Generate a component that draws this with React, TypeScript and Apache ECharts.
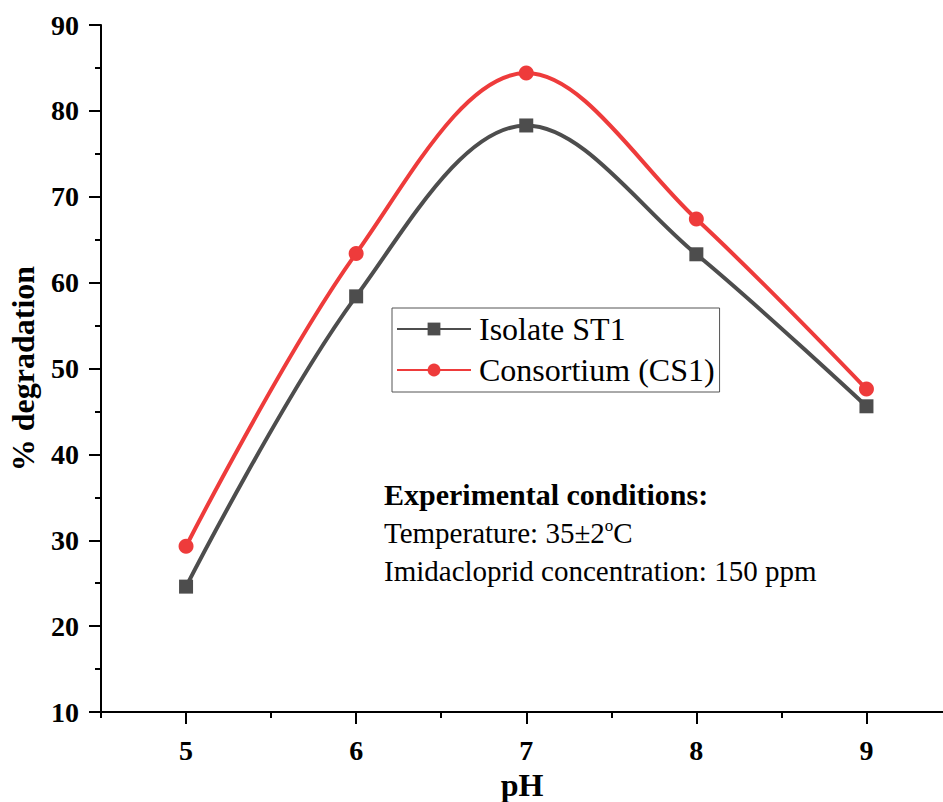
import React, { useEffect, useRef } from "react";
import * as echarts from "echarts";

const phValues = [5, 6, 7, 8, 9];
const isolateST1 = [24.6, 58.4, 78.3, 63.3, 45.6];
const consortiumCS1 = [29.3, 63.4, 84.4, 67.4, 47.6];
const xMajorTicks = [5, 6, 7, 8, 9];
const xMinorTicks = [4.5, 5.5, 6.5, 7.5, 8.5];
const legendNames = ["Isolate ST1", "Consortium (CS1)"];
const seriesColors = ["#4d4d4d", "#ee3b3b"];

const FONT = "Liberation Serif";

export default function App() {
  const ref = useRef<HTMLDivElement>(null);
  useEffect(() => {
    if (!ref.current) return;
    const chart = echarts.init(ref.current, null, { renderer: "svg" });
    const pairs = (ys: number[]) => phValues.map((x, i) => [x, ys[i]]);
    chart.setOption({
      animation: false,
      backgroundColor: "#ffffff",
      textStyle: { fontFamily: FONT },
      grid: { left: 101, right: 0, top: 25, bottom: 90, containLabel: false, outerBoundsMode: "none" },
      xAxis: [
        {
          type: "value",
          min: 4.5,
          max: 9.45,
          name: "pH",
          nameLocation: "middle",
          nameGap: 55,
          nameTextStyle: { fontFamily: FONT, fontWeight: "bold", fontSize: 32, color: "#000" },
          axisLine: { show: true, lineStyle: { color: "#000", width: 2 } },
          axisTick: { show: true, customValues: xMajorTicks, length: 12, lineStyle: { color: "#000", width: 2 } },
          axisLabel: {
            customValues: xMajorTicks,
            margin: 24,
            fontFamily: FONT,
            fontWeight: "bold",
            fontSize: 28,
            color: "#000",
          },
          splitLine: { show: false },
        },
        {
          type: "value",
          min: 4.5,
          max: 9.45,
          position: "bottom",
          axisLine: { show: false },
          axisTick: { show: true, customValues: xMinorTicks, length: 6, lineStyle: { color: "#000", width: 2 } },
          axisLabel: { show: false },
          splitLine: { show: false },
        },
      ],
      yAxis: {
        type: "value",
        min: 10,
        max: 90,
        interval: 10,
        name: "% degradation",
        nameLocation: "middle",
        nameGap: 62,
        nameRotate: 90,
        nameTextStyle: { fontFamily: FONT, fontWeight: "bold", fontSize: 32, color: "#000" },
        axisLine: { show: true, lineStyle: { color: "#000", width: 2 } },
        axisTick: { show: true, length: 12, lineStyle: { color: "#000", width: 2 } },
        minorTick: { show: true, splitNumber: 2, length: 6, lineStyle: { color: "#000", width: 2 } },
        axisLabel: { margin: 22, fontFamily: FONT, fontWeight: "bold", fontSize: 28, color: "#000" },
        splitLine: { show: false },
        minorSplitLine: { show: false },
      },
      legend: {
        orient: "vertical",
        left: 392,
        top: 308,
        padding: [5, 5, 6, 4],
        itemWidth: 74,
        itemHeight: 16,
        itemGap: 9,
        borderColor: "#555",
        borderWidth: 1,
        backgroundColor: "#fff",
        textStyle: { fontFamily: FONT, fontSize: 32, color: "#000", padding: [0, 0, 0, 3] },
        data: legendNames,
      },
      graphic: [
        {
          type: "text",
          left: 384,
          top: 479,
          style: { text: "Experimental conditions:", font: `bold 30px ${FONT}`, fill: "#000" },
        },
        {
          type: "text",
          left: 384,
          top: 517,
          style: {
            text: "{a|Temperature: 35±2}{b|o}{a|C}",
            fill: "#000",
            rich: {
              a: { fontFamily: FONT, fontSize: 29, color: "#000", verticalAlign: "bottom", lineHeight: 30 },
              b: { fontFamily: FONT, fontSize: 17, color: "#000", verticalAlign: "top", lineHeight: 30 },
            },
          },
        },
        {
          type: "text",
          left: 384,
          top: 556,
          style: { text: "Imidacloprid concentration: 150 ppm", font: `29px ${FONT}`, fill: "#000" },
        },
      ],
      series: [
        {
          name: legendNames[0],
          type: "line",
          data: pairs(isolateST1),
          smooth: 0.35,
          symbol: "rect",
          symbolSize: 14,
          lineStyle: { color: seriesColors[0], width: 4 },
          itemStyle: { color: seriesColors[0] },
          z: 3,
        },
        {
          name: legendNames[1],
          type: "line",
          data: pairs(consortiumCS1),
          smooth: 0.35,
          symbol: "circle",
          symbolSize: 15,
          lineStyle: { color: seriesColors[1], width: 4 },
          itemStyle: { color: seriesColors[1] },
          z: 4,
        },
      ],
    });
    return () => chart.dispose();
  }, []);
  return (
    <div
      ref={ref}
      style={{ position: "fixed", left: 0, top: 0, width: 943, height: 802, background: "#fff" }}
    />
  );
}
